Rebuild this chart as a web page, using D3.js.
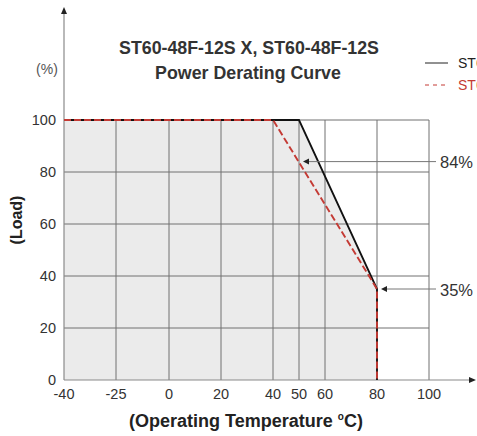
<!DOCTYPE html>
<html>
<head>
<meta charset="utf-8">
<script src="https://cdn.jsdelivr.net/npm/d3@7"></script>
<style>
  body { margin: 0; background: #fff; }
  text { font-family: "Liberation Sans", Arial, sans-serif; }
</style>
</head>
<body>
<svg id="chart" width="477" height="436"></svg>
<script>
// chart values
var tempTicks = [-40, -25, 0, 20, 40, 50, 60, 80, 100];
var loadTicks = [0, 20, 40, 60, 80, 100];
var seriesNames = ["ST60-48F-12S X", "ST60-48F-12S"];
var tempX = [-40, 50, 80, 80];
var loadX = [100, 100, 35, 0];
var tempStd = [-40, 40, 80, 80];
var loadStd = [100, 100, 35, 0];
var noteLabels = ["84%", "35%"];
var noteTemps = [50, 80];
var noteLoads = [84, 35];

function drawChart() {
	var svg = d3.select('#chart');

	// x axis is not even: -40..0 squeezed
	var x = d3.scaleLinear().domain([-40, -25, 0, 100]).range([64, 116, 169, 429]);
	var y = d3.scaleLinear().domain([0, 100]).range([380, 120]);

	var line = d3.line().x(function(d) { return x(d.t); }).y(function(d) { return y(d.l); });
	var ptsX = tempX.map(function(t, i) { return {t: t, l: loadX[i]}; });
	var ptsStd = tempStd.map(function(t, i) { return {t: t, l: loadStd[i]}; });

	// grey area under the X curve
	var area = d3.area().x(function(d) { return x(d.t); }).y0(y(0)).y1(function(d) { return y(d.l); });
	svg.append('path')
		.attr('d', area(ptsX.slice(0, 3)))
		.style('fill', '#ebebeb');

	// grid
	var g_grid = svg.append('g');
	g_grid.selectAll('line.v').data(tempTicks.slice(1)).enter().append('line')
		.attr('x1', function(d) { return x(d); }).attr('x2', function(d) { return x(d); })
		.attr('y1', y(100)).attr('y2', y(0))
		.style('stroke', '#707070').style('stroke-width', '1px');
	g_grid.selectAll('line.h').data(loadTicks.slice(1)).enter().append('line')
		.attr('x1', x(-40)).attr('x2', x(100))
		.attr('y1', function(d) { return y(d); }).attr('y2', function(d) { return y(d); })
		.style('stroke', '#707070').style('stroke-width', '1px');

	// axes with arrows
	svg.append('line').attr('x1', x(-40)).attr('x2', x(-40)).attr('y1', y(0)).attr('y2', 12)
		.style('stroke', '#8a8a8a').style('stroke-width', '1.2px');
	svg.append('path').attr('d', 'M' + x(-40) + ',7 l-3,7 l6,0 z').style('fill', '#222');
	svg.append('line').attr('x1', x(-40)).attr('x2', 470).attr('y1', y(0)).attr('y2', y(0))
		.style('stroke', '#8a8a8a').style('stroke-width', '1.2px');
	svg.append('path').attr('d', 'M476,' + y(0) + ' l-7,-3 l0,6 z').style('fill', '#222');

	// tick labels
	svg.selectAll('text.yt').data(loadTicks).enter().append('text')
		.attr('x', 56).attr('y', function(d) { return y(d) + 5; })
		.attr('text-anchor', 'end')
		.style('font-size', '14.5px').style('fill', '#333')
		.text(function(d) { return d; });
	svg.selectAll('text.xt').data(tempTicks).enter().append('text')
		.attr('x', function(d) { return x(d); }).attr('y', 399)
		.attr('text-anchor', 'middle')
		.style('font-size', '14.5px').style('fill', '#333')
		.text(function(d) { return d; });

	// curves
	svg.append('path').attr('d', line(ptsX))
		.style('fill', 'none').style('stroke', '#111').style('stroke-width', '1.8px');
	svg.append('path').attr('d', line(ptsStd))
		.style('fill', 'none').style('stroke', '#c43a34').style('stroke-width', '1.9px')
		.style('stroke-dasharray', '7,3');

	// annotations
	noteLabels.forEach(function(lab, i) {
		var ty = y(noteLoads[i]);
		var tx = x(noteTemps[i]) + 4;
		svg.append('line').attr('x1', tx + 5).attr('x2', 436).attr('y1', ty).attr('y2', ty)
			.style('stroke', '#777').style('stroke-width', '1px');
		svg.append('path').attr('d', 'M' + tx + ',' + ty + ' l6,-3 l0,6 z').style('fill', '#222');
		svg.append('text').attr('x', 440).attr('y', ty + 6.5)
			.style('font-size', '16.5px').style('fill', '#333').text(lab);
	});

	// titles
	svg.append('text').attr('x', 249).attr('y', 54).attr('text-anchor', 'middle')
		.style('font-size', '17.8px').style('font-weight', 'bold').style('fill', '#333')
		.text('ST60-48F-12S X, ST60-48F-12S');
	svg.append('text').attr('x', 248).attr('y', 79).attr('text-anchor', 'middle')
		.style('font-size', '17.8px').style('font-weight', 'bold').style('fill', '#333')
		.text('Power Derating Curve');
	svg.append('text').attr('x', 47).attr('y', 74).attr('text-anchor', 'middle')
		.style('font-size', '14px').style('fill', '#555').text('(%)');

	// legend (cut by the right edge, as in the original)
	svg.append('line').attr('x1', 425).attr('x2', 448).attr('y1', 63).attr('y2', 63)
		.style('stroke', '#222').style('stroke-width', '1px');
	svg.append('text').attr('x', 458).attr('y', 68)
		.style('font-size', '14px').style('fill', '#222').text(seriesNames[0]);
	svg.append('line').attr('x1', 425).attr('x2', 448).attr('y1', 85).attr('y2', 85)
		.style('stroke', '#c43a34').style('stroke-width', '1px').style('stroke-dasharray', '4,4');
	svg.append('text').attr('x', 458).attr('y', 90)
		.style('font-size', '14px').style('fill', '#c43a34').text(seriesNames[1]);

	// axis titles
	svg.append('text').attr('transform', 'translate(22,220) rotate(-90)').attr('text-anchor', 'middle')
		.style('font-size', '16px').style('font-weight', 'bold').style('fill', '#222').text('(Load)');
	var xt = svg.append('text').attr('x', 246).attr('y', 427).attr('text-anchor', 'middle')
		.style('font-size', '18px').style('font-weight', 'bold').style('fill', '#222');
	xt.append('tspan').text('(Operating Temperature ');
	xt.append('tspan').attr('dy', -7).style('font-size', '10px').text('o');
	xt.append('tspan').attr('dy', 7).text('C)');
}

drawChart();
</script>
</body>
</html>
